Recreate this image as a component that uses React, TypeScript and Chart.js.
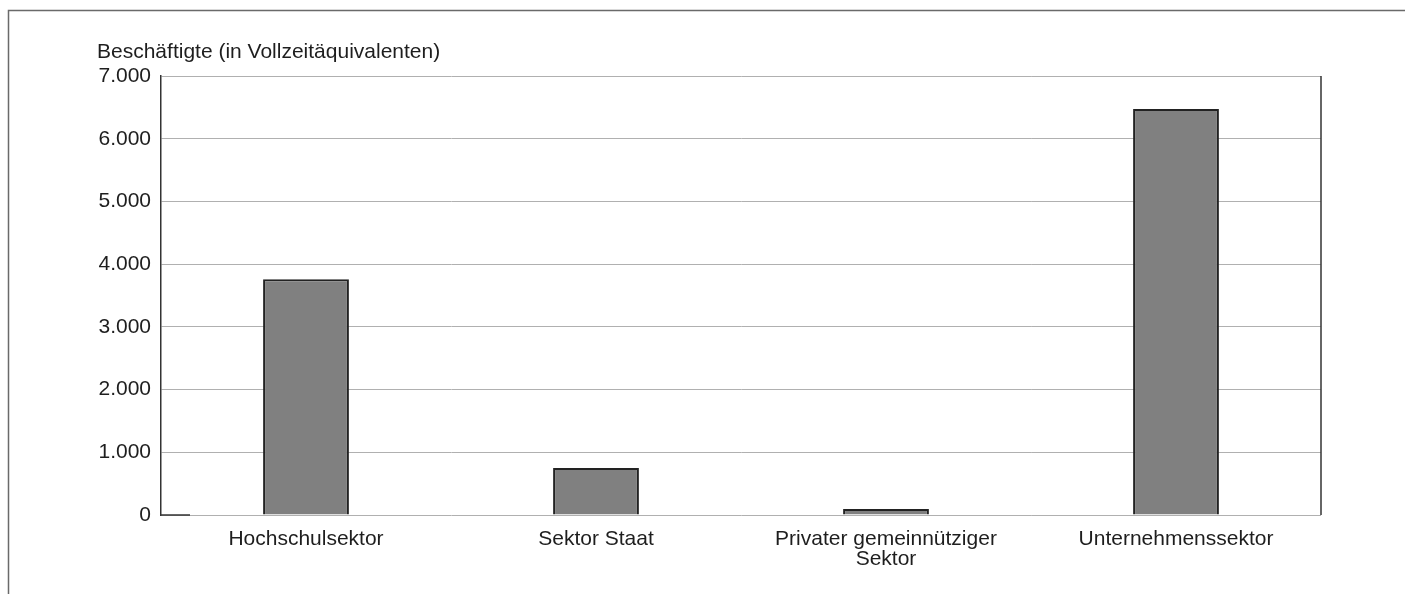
import React, { useEffect, useRef } from "react";
import { Chart, registerables } from "chart.js";

Chart.register(...registerables);

const categories: (string | string[])[] = [
  "Hochschulsektor",
  "Sektor Staat",
  ["Privater gemeinnütziger", "Sektor"],
  "Unternehmenssektor",
];
const employees = [3760, 750, 95, 6475];
const yTitle = "Beschäftigte (in Vollzeitäquivalenten)";
const yMax = 7000;
const yStep = 1000;

const FONT = "'Liberation Sans', Arial, Helvetica, sans-serif";

const framePlugin = {
  id: "frame",
  beforeDraw(chart: any) {
    const ctx = chart.ctx;
    ctx.save();
    ctx.strokeStyle = "#6a6a6a";
    ctx.lineWidth = 1.5;
    ctx.beginPath();
    ctx.moveTo(8.5, 594);
    ctx.lineTo(8.5, 10.5);
    ctx.lineTo(1405, 10.5);
    ctx.stroke();
    ctx.fillStyle = "#1e1e1e";
    ctx.font = `21px ${FONT}`;
    ctx.textAlign = "left";
    ctx.textBaseline = "middle";
    ctx.fillText(yTitle, 97, 52);
    ctx.restore();
  },
  afterDatasetsDraw(chart: any) {
    const { ctx, chartArea } = chart;
    ctx.save();
    ctx.strokeStyle = "#333";
    ctx.lineWidth = 1.5;
    ctx.beginPath();
    ctx.moveTo(chartArea.right, chartArea.top);
    ctx.lineTo(chartArea.right, chartArea.bottom);
    ctx.stroke();
    ctx.beginPath();
    ctx.moveTo(chartArea.left, chartArea.bottom);
    ctx.lineTo(chartArea.left + 29, chartArea.bottom);
    ctx.stroke();
    ctx.restore();
  },
};

export default function App() {
  const ref = useRef<HTMLCanvasElement>(null);
  useEffect(() => {
    if (!ref.current) return;
    const chart = new Chart(ref.current, {
      type: "bar",
      data: {
        labels: categories,
        datasets: [
          {
            data: employees,
            backgroundColor: "#808080",
            borderColor: "#222",
            borderWidth: 2,
            borderSkipped: "bottom",
            categoryPercentage: 1,
            barPercentage: 0.296,
          },
        ],
      },
      options: {
        responsive: false,
        animation: false,
        devicePixelRatio: 1,
        layout: { padding: { left: 97, right: 84, top: 76, bottom: 0 } },
        plugins: {
          legend: { display: false },
          tooltip: { enabled: false },
          title: { display: false },
        },
        scales: {
          x: {
            grid: { display: false, drawTicks: false },
            border: { display: false },
            ticks: {
              color: "#1e1e1e",
              font: { family: FONT, size: 21, lineHeight: 0.92 },
              padding: 15,
              maxRotation: 0,
              autoSkip: false,
            },
            afterFit(scale: any) {
              scale.height = 79;
            },
          },
          y: {
            min: 0,
            max: yMax,
            grid: { color: "#b0b0b0", lineWidth: 1, drawTicks: false },
            border: { display: true, color: "#333", width: 1.5 },
            ticks: {
              stepSize: yStep,
              color: "#1e1e1e",
              padding: 10,
              font: { family: FONT, size: 21 },
              callback: (v: any) => Number(v).toLocaleString("de-DE"),
            },
            afterFit(scale: any) {
              scale.width = 64;
            },
          },
        },
      },
      plugins: [framePlugin],
    });
    return () => chart.destroy();
  }, []);
  return (
    <div style={{ position: "fixed", left: 0, top: 0, width: 1405, height: 594, background: "#fff" }}>
      <canvas ref={ref} width={1405} height={594} style={{ display: "block" }} />
    </div>
  );
}
